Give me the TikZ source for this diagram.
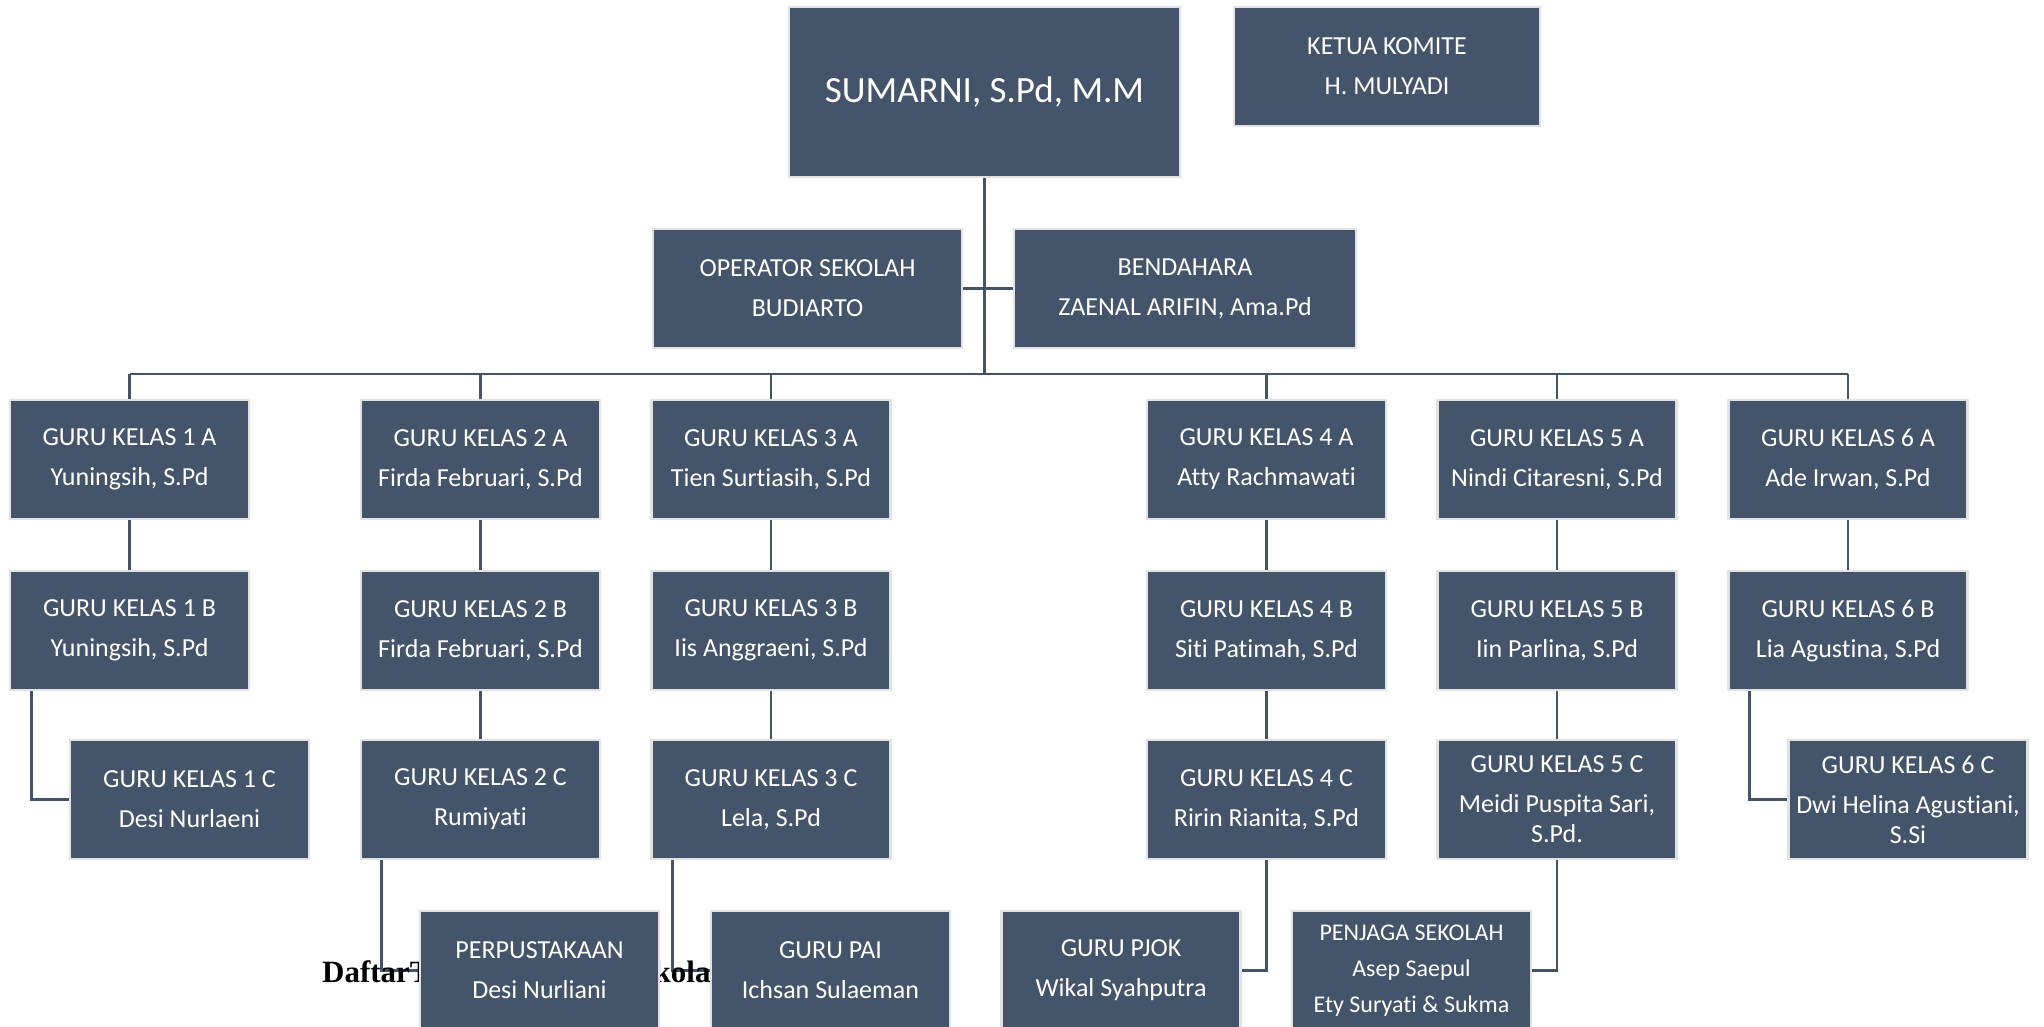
\documentclass[tikz,border=0pt]{standalone}
\usepackage{fontspec}
\setmainfont{Carlito}[Ligatures={NoCommon}]
\newfontfamily\daftarfont{Liberation Serif}
\definecolor{boxfill}{HTML}{44546A}
\definecolor{boxline}{HTML}{E2E2E2}
\definecolor{connc}{HTML}{44546A}
\pgfdeclarelayer{linklayer}
\pgfdeclarelayer{titlelayer}
\pgfsetlayers{linklayer,titlelayer,main}
\begin{document}
\begin{tikzpicture}[x=1pt,y=-1pt,
  box/.style={draw=boxline, line width=2.5pt, fill=boxfill, text=white, inner sep=0pt,
    minimum width=239pt, minimum height=119pt, align=center,
    font=\fontsize{26}{30}\selectfont},
  link/.style={draw=connc, line width=2.8pt}]
\useasboundingbox (0,0) rectangle (2044,1027);
\begin{pgfonlayer}{linklayer}
\fill[white] (0,0) rectangle (2044,1027);
\end{pgfonlayer}

% ---------- top ----------
\node[box, minimum width=391pt, minimum height=170pt, font=\fontsize{37}{44}\selectfont] (sum) at (984.5,92) {SUMARNI, S.Pd, M.M};
\node[box, minimum width=306pt] (ketua) at (1387,66.5) {KETUA KOMITE\\[10pt]H. MULYADI};
\node[box, minimum width=309pt] (op) at (807.5,288.5) {OPERATOR SEKOLAH\\[10pt]BUDIARTO};
\node[box, minimum width=342pt] (ben) at (1185,288.5) {BENDAHARA\\[10pt]ZAENAL ARIFIN, Ama.Pd};
\coordinate (bus) at (984.5,374);

% row A
\node[box] (a1) at (129.5,459.5) {GURU KELAS 1 A\\[10pt]Yuningsih, S.Pd};
\node[box] (a2) at (480.5,459.5) {GURU KELAS 2 A\\[10pt]Firda Februari, S.Pd};
\node[box] (a3) at (771,459.5) {GURU KELAS 3 A\\[10pt]Tien Surtiasih, S.Pd};
\node[box] (a4) at (1266.5,459.5) {GURU KELAS 4 A\\[10pt]Atty Rachmawati};
\node[box] (a5) at (1557,459.5) {GURU KELAS 5 A\\[10pt]Nindi Citaresni, S.Pd};
\node[box] (a6) at (1848,459.5) {GURU KELAS 6 A\\[10pt]Ade Irwan, S.Pd};

% row B
\node[box] (b1) at (129.5,630.5) {GURU KELAS 1 B\\[10pt]Yuningsih, S.Pd};
\node[box] (b2) at (480.5,630.5) {GURU KELAS 2 B\\[10pt]Firda Februari, S.Pd};
\node[box] (b3) at (771,630.5) {GURU KELAS 3 B\\[10pt]Iis Anggraeni, S.Pd};
\node[box] (b4) at (1266.5,630.5) {GURU KELAS 4 B\\[10pt]Siti Patimah, S.Pd};
\node[box] (b5) at (1557,630.5) {GURU KELAS 5 B\\[10pt]Iin Parlina, S.Pd};
\node[box] (b6) at (1848,630.5) {GURU KELAS 6 B\\[10pt]Lia Agustina, S.Pd};

% row C
\node[box] (c1) at (189.5,799.5) {GURU KELAS 1 C\\[10pt]Desi Nurlaeni};
\node[box] (c2) at (480.5,799.5) {GURU KELAS 2 C\\[10pt]Rumiyati};
\node[box] (c3) at (771,799.5) {GURU KELAS 3 C\\[10pt]Lela, S.Pd};
\node[box] (c4) at (1266.5,799.5) {GURU KELAS 4 C\\[10pt]Ririn Rianita, S.Pd};
\node[box] (c5) at (1557,799.5) {GURU KELAS 5 C\\[10pt]Meidi Puspita Sari,\\S.Pd.};
\node[box] (c6) at (1908,799.5) {GURU KELAS 6 C\\[10pt]Dwi Helina Agustiani,\\S.Si};

% row D
\node[box] (perp) at (539.5,970.5) {PERPUSTAKAAN\\[10pt]Desi Nurliani};
\node[box] (pai) at (830.5,970.5) {GURU PAI\\[10pt]Ichsan Sulaeman};
\node[box] (pjok) at (1121,970.5) {GURU PJOK\\[10pt]Wikal Syahputra};
\node[box, font=\fontsize{24}{29}\selectfont] (penj) at (1411.5,970.5) {PENJAGA SEKOLAH\\[7pt]Asep Saepul\\[7pt]Ety Suryati \& Sukma};

% ---------- connectors (behind boxes) ----------
\begin{pgfonlayer}{linklayer}
\draw[link] (sum.south) -- (bus);
\draw[link] (op.east) -- (ben.west);
\draw[link] (a1.north |- bus) -- (a6.north |- bus);
\foreach \n in {a1,a2,a3,a4,a5,a6} \draw[link] (\n.north |- bus) -- (\n.north);
\foreach \u/\v in {a1/b1,a2/b2,a3/b3,a4/b4,a5/b5,a6/b6,b2/c2,b3/c3,b4/c4,b5/c5}
  \draw[link] (\u.south) -- (\v.north);
\draw[link] ([xshift=23pt]b1.south west) |- (c1.west);
\draw[link] ([xshift=22pt]b6.south west) |- (c6.west);
\draw[link] ([xshift=22pt]c2.south west) |- (perp.west);
\draw[link] ([xshift=22pt]c3.south west) |- (pai.west);
\draw[link] (c4.south) |- (pjok.east);
\draw[link] (c5.south) |- (penj.east);
\end{pgfonlayer}

% ---------- title text, partly hidden behind the boxes ----------
\begin{pgfonlayer}{titlelayer}
\node[anchor=base west, inner sep=0pt, font=\daftarfont\bfseries\fontsize{31}{31}\selectfont] (daftar) at (322,982) {DaftarTenaga Pendidik\hspace{-17pt} Sekolah};
\end{pgfonlayer}
\end{tikzpicture}
\end{document}
